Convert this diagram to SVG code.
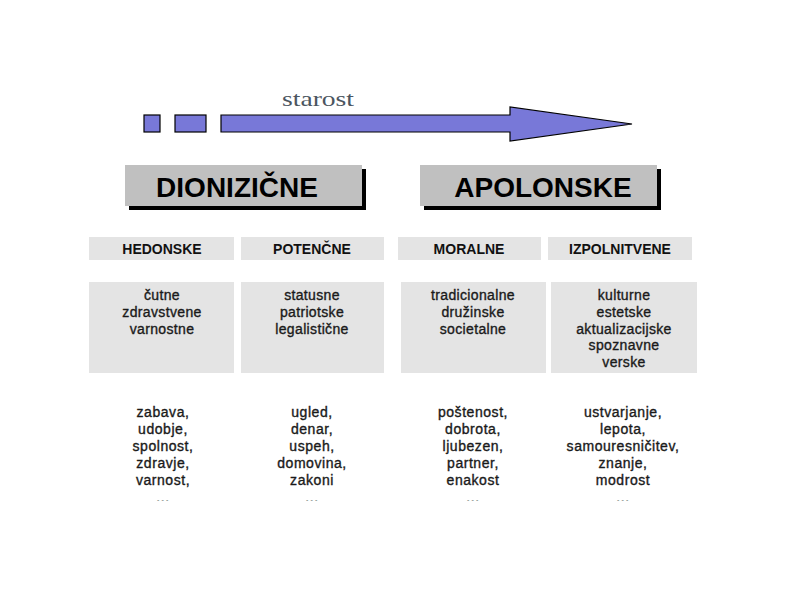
<svg xmlns="http://www.w3.org/2000/svg" width="800" height="600" viewBox="0 0 800 600">
<defs>
<clipPath id="cut"><rect x="0" y="0" width="800" height="500.5"/></clipPath>
</defs>
<style>
.blue{fill:#7878d8;stroke:#000;stroke-width:1.2}
.title{font-family:"Liberation Sans",Arial,sans-serif;font-weight:bold;font-size:28px;fill:#000;text-anchor:middle}
.hdr{font-family:"Liberation Sans",Arial,sans-serif;font-weight:bold;font-size:14px;fill:#111;text-anchor:middle}
.txt{font-family:"Liberation Sans",Arial,sans-serif;font-size:14px;fill:#1a1a1a;stroke:#1a1a1a;stroke-width:0.35;text-anchor:middle;letter-spacing:0.35px}
.lst{letter-spacing:0.55px}
.box{fill:#e4e4e4}
.tbox{fill:#c0c0c0}
</style>
<rect width="800" height="600" fill="#fff"/>
<g id="starost">
<rect class="blue" x="144" y="115" width="16" height="17"/>
<rect class="blue" x="175" y="115" width="31" height="17"/>
<polygon class="blue" points="221,115 510,115 510,107 632,124 510,141 510,132 221,132"/>
<text x="282" y="106" font-family="'Liberation Serif','Times New Roman',serif" font-size="22" fill="#4c5560" textLength="72" lengthAdjust="spacingAndGlyphs">starost</text>
</g>
<g id="dionizicne">
<rect x="129" y="169" width="237" height="41" fill="#000"/>
<rect class="tbox" x="125" y="165" width="237" height="41"/>
<text class="title" x="237" y="197">DIONIZIČNE</text>
</g>
<g id="apolonske">
<rect x="424" y="169" width="237" height="41" fill="#000"/>
<rect class="tbox" x="420" y="165" width="237" height="41"/>
<text class="title" x="543" y="197">APOLONSKE</text>
</g>
<g id="hedonske">
<rect class="box" x="89" y="237" width="145" height="23"/>
<text class="hdr" x="162" y="254">HEDONSKE</text>
<rect class="box" x="89" y="282" width="145" height="91"/>
<text class="txt" y="300"><tspan x="162">čutne</tspan><tspan x="162" dy="17">zdravstvene</tspan><tspan x="162" dy="17">varnostne</tspan></text>
<text class="txt lst" y="417" clip-path="url(#cut)"><tspan x="163">zabava,</tspan><tspan x="163" dy="17">udobje,</tspan><tspan x="163" dy="17">spolnost,</tspan><tspan x="163" dy="17">zdravje,</tspan><tspan x="163" dy="17">varnost,</tspan><tspan x="163" dy="17">...</tspan></text>
</g>
<g id="potencne">
<rect class="box" x="241" y="237" width="143" height="23"/>
<text class="hdr" x="312" y="254">POTENČNE</text>
<rect class="box" x="241" y="282" width="143" height="91"/>
<text class="txt" y="300"><tspan x="312">statusne</tspan><tspan x="312" dy="17">patriotske</tspan><tspan x="312" dy="17">legalistične</tspan></text>
<text class="txt lst" y="417" clip-path="url(#cut)"><tspan x="312">ugled,</tspan><tspan x="312" dy="17">denar,</tspan><tspan x="312" dy="17">uspeh,</tspan><tspan x="312" dy="17">domovina,</tspan><tspan x="312" dy="17">zakoni</tspan><tspan x="312" dy="17">...</tspan></text>
</g>
<g id="moralne">
<rect class="box" x="398" y="237" width="143" height="23"/>
<text class="hdr" x="469" y="254">MORALNE</text>
<rect class="box" x="401" y="282" width="145" height="91"/>
<text class="txt" y="300"><tspan x="473">tradicionalne</tspan><tspan x="473" dy="17">družinske</tspan><tspan x="473" dy="17">societalne</tspan></text>
<text class="txt lst" y="417" clip-path="url(#cut)"><tspan x="473">poštenost,</tspan><tspan x="473" dy="17">dobrota,</tspan><tspan x="473" dy="17">ljubezen,</tspan><tspan x="473" dy="17">partner,</tspan><tspan x="473" dy="17">enakost</tspan><tspan x="473" dy="17">...</tspan></text>
</g>
<g id="izpolnitvene">
<rect class="box" x="548" y="237" width="144" height="23"/>
<text class="hdr" x="620" y="254">IZPOLNITVENE</text>
<rect class="box" x="551" y="282" width="146" height="91"/>
<text class="txt" y="300"><tspan x="624">kulturne</tspan><tspan x="624" dy="16.75">estetske</tspan><tspan x="624" dy="16.75">aktualizacijske</tspan><tspan x="624" dy="16.75">spoznavne</tspan><tspan x="624" dy="16.75">verske</tspan></text>
<text class="txt lst" y="417" clip-path="url(#cut)"><tspan x="623">ustvarjanje,</tspan><tspan x="623" dy="17">lepota,</tspan><tspan x="623" dy="17">samouresničitev,</tspan><tspan x="623" dy="17">znanje,</tspan><tspan x="623" dy="17">modrost</tspan><tspan x="623" dy="17">...</tspan></text>
</g>
<g id="connectors"/>
</svg>
